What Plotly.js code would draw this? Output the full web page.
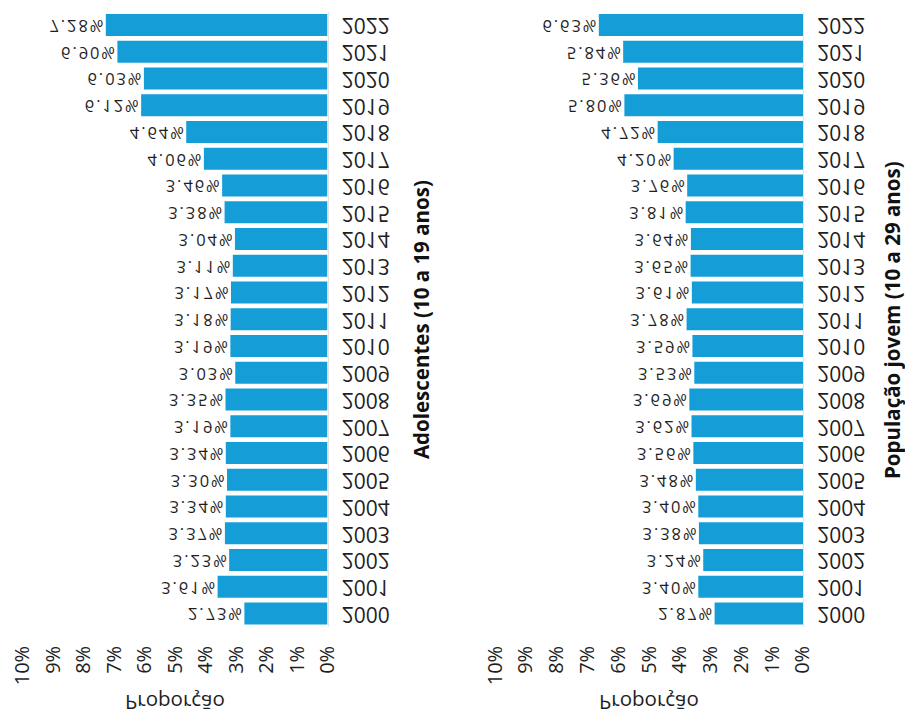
<!DOCTYPE html>
<html>
<head>
<meta charset="utf-8">
<script src="https://cdn.plot.ly/plotly-3.0.1.min.js"></script>
<style>
  html, body { margin: 0; padding: 0; background: #ffffff; }
  #chart { width: 905px; height: 716px; }
</style>
</head>
<body>
<div id="chart"></div>
<script>
// ---- data ----
const years = ['2000','2001','2002','2003','2004','2005','2006','2007','2008','2009','2010','2011',
               '2012','2013','2014','2015','2016','2017','2018','2019','2020','2021','2022'];
const adolescentes = [2.73, 3.61, 3.23, 3.37, 3.34, 3.30, 3.34, 3.19, 3.35, 3.03, 3.19, 3.18,
                      3.17, 3.11, 3.04, 3.38, 3.46, 4.06, 4.64, 6.12, 6.03, 6.90, 7.28];
const jovem = [2.87, 3.40, 3.24, 3.38, 3.40, 3.48, 3.56, 3.62, 3.69, 3.53, 3.59, 3.78,
               3.61, 3.65, 3.64, 3.81, 3.76, 4.20, 4.72, 5.80, 5.36, 5.84, 6.63];
const tickValues = [0,1,2,3,4,5,6,7,8,9,10];
const tickLabels = ['0%','1%','2%','3%','4%','5%','6%','7%','8%','9%','10%'];
const panelTitles = ['Adolescentes (10 a 19 anos)', 'População jovem (10 a 29 anos)'];
const axisTitle = 'Proporção';

// ---- style ----
const FONT = '"Open Sans", Lato, sans-serif';
const BAR = '#149dd7';
const INK = '#1e1e1e';

function barTrace(vals, xa, ya) {
  return {
    type: 'bar', orientation: 'h',
    x: vals, y: years,
    xaxis: xa, yaxis: ya,
    marker: { color: BAR, line: { width: 0 } },
    texttemplate: '%{x:.2f}%',
    textposition: 'outside',
    cliponaxis: false,
    textfont: { family: FONT, size: 21, color: INK },
    hoverinfo: 'skip'
  };
}

function xAxis(domain, anchor) {
  return {
    domain: domain, anchor: anchor,
    range: [10, 0], fixedrange: true,
    tickmode: 'array', tickvals: tickValues, ticktext: tickLabels,
    tickangle: -90, ticks: '', ticklabelstandoff: 14,
    tickfont: { family: FONT, size: 20, color: INK },
    showgrid: false, zeroline: false, showline: false
  };
}
function yAxis(anchor) {
  return {
    domain: [0.1245, 0.9838], anchor: anchor,
    type: 'category', categoryorder: 'array', categoryarray: years,
    side: 'right', ticks: '', ticklabelstandoff: 9,
    tickfont: { family: FONT, size: 21, color: INK },
    showgrid: false, zeroline: false,
    showline: true, linecolor: '#e4e4e4', linewidth: 1
  };
}

const layout = {
  width: 905, height: 716,
  margin: { l: 0, r: 0, t: 0, b: 0 },
  paper_bgcolor: '#ffffff', plot_bgcolor: '#ffffff',
  showlegend: false,
  bargap: 0.18,
  font: { family: FONT, color: INK },
  xaxis: xAxis([0.0254, 0.3619], 'y'),
  yaxis: yAxis('x'),
  xaxis2: xAxis([0.547, 0.8873], 'y2'),
  yaxis2: yAxis('x2'),
  annotations: [
    { text: axisTitle, xref: 'paper', yref: 'paper', x: 0.1934, y: 0.0205,
      xanchor: 'center', yanchor: 'middle', showarrow: false,
      font: { family: FONT, size: 20.5, color: INK } },
    { text: axisTitle, xref: 'paper', yref: 'paper', x: 0.7171, y: 0.0205,
      xanchor: 'center', yanchor: 'middle', showarrow: false,
      font: { family: FONT, size: 20.5, color: INK } },
    { text: '<b>' + panelTitles[0] + '</b>', xref: 'paper', yref: 'paper', x: 0.4652, y: 0.553,
      xanchor: 'center', yanchor: 'middle', textangle: -90, showarrow: false,
      font: { family: FONT, size: 20.5, color: '#111111' } },
    { text: '<b>' + panelTitles[1] + '</b>', xref: 'paper', yref: 'paper', x: 0.9856, y: 0.553,
      xanchor: 'center', yanchor: 'middle', textangle: -90, showarrow: false,
      font: { family: FONT, size: 20.5, color: '#111111' } }
  ]
};

const data = [barTrace(adolescentes, 'x', 'y'), barTrace(jovem, 'x2', 'y2')];

// mirror a text element vertically about its own centre (the reference shows these upside down)
function flipText(el, dx) {
  const bb = el.getBBox();
  const cy = bb.y + bb.height / 2 + 1;
  const t = el.getAttribute('transform') || '';
  el.setAttribute('transform', t + ' translate(' + (dx || 0) + ',' + (2 * cy) + ') scale(1,-1)');
}

Plotly.newPlot('chart', data, layout, { staticPlot: true, displayModeBar: false }).then(function (gd) {
  gd.querySelectorAll('.ytick text, .y2tick text').forEach(function (el) { flipText(el, 0); });
  gd.querySelectorAll('text.bartext').forEach(function (el) {
    el.style.letterSpacing = '2.5px';
    flipText(el, -3);
  });
  const ann = gd.querySelectorAll('.annotation');
  [0, 1].forEach(function (i) {
    const t = ann[i] && ann[i].querySelector('text.annotation-text');
    if (t) flipText(t, 0);
  });
});
</script>
</body>
</html>
